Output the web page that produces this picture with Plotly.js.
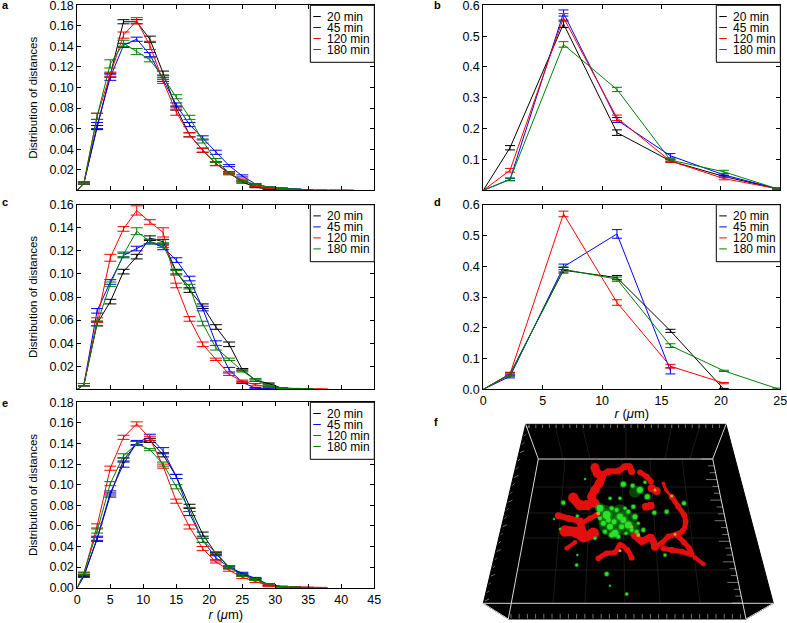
<!DOCTYPE html>
<html>
<head>
<meta charset="utf-8">
<script src="https://cdn.plot.ly/plotly-3.0.1.min.js"></script>
<style>html,body{margin:0;padding:0;background:#fff}</style>
</head>
<body>
<div id="myDiv" style="width:787px;height:623px"></div>
<script>
var seriesNames = ["20 min", "45 min", "120 min", "180 min"];
var rFine = [0, 1, 3, 5, 7, 9, 11, 13, 15, 17, 19, 21, 23, 25, 27, 29, 31, 33, 35, 37, 39, 41];
var rCoarse = [0, 2.25, 6.75, 11.25, 15.75, 20.25, 24.75];

// panel a
var a20 = [0, .007, .061, .112, .164, .164, .147, .114, .080, .054, .039, .026, .017, .008, .003, .001, .0005];
var a45 = [0, .007, .063, .110, .141, .147, .132, .108, .083, .064, .051, .037, .024, .014, .006, .003, .002, .001, .0005];
var a120 = [0, .007, .072, .113, .151, .165, .141, .106, .076, .054, .039, .026, .016, .010, .004, .002, .001, .0005, .0003, .0002, .0001, .0001];
var a180 = [0, .007, .072, .123, .143, .135, .127, .110, .091, .071, .048, .029, .017, .009, .006, .003, .002, .001];
var a20e = [.001, .002, .002, .002, .002, .003, .002, .002, .002, .002, .002, .001, .001, .0005, .0003, .0002];
var a45e = [.001, .003, .003, .002, .002, .002, .002, .002, .002, .002, .002, .001, .001, .0005, .0004, .0003, .0002, .0002];
var a120e = [.001, .003, .002, .003, .003, .004, .002, .003, .002, .002, .002, .001, .001, .0005, .0004, .0003, .0002, .0002, .0001, .0001, .0001];
var a180e = [.001, .003, .004, .003, .003, .002, .002, .002, .002, .002, .002, .001, .001, .0005, .0004, .0003, .0002];

// panel c
var c20 = [0, .004, .057, .076, .102, .115, .131, .128, .102, .086, .072, .054, .039, .017, .008, .005, .001, .0005];
var c45 = [0, .004, .068, .093, .116, .122, .128, .123, .112, .096, .070, .040, .017, .006, .001, .0005];
var c120 = [0, .004, .060, .114, .139, .155, .145, .136, .090, .061, .039, .026, .013, .007, .004, .002, .001, .0005, .0003, .0002];
var c180 = [0, .004, .057, .091, .117, .137, .128, .125, .101, .089, .057, .036, .026, .016, .008, .003, .001, .0006, .0003];
var c20e = [.001, .002, .002, .002, .002, .002, .002, .002, .002, .002, .002, .002, .001, .001, .0005, .0003, .0002];
var c45e = [.001, .002, .002, .002, .002, .002, .002, .002, .002, .002, .002, .002, .001, .0005, .0003];
var c120e = [.001, .002, .003, .002, .004, .002, .004, .002, .002, .002, .001, .001, .001, .001, .0005, .0003, .0002, .0001, .0001];
var c180e = [.001, .002, .002, .002, .003, .002, .002, .002, .002, .002, .002, .001, .001, .001, .0005, .0003, .0002, .0001];

// panel e
var e20 = [0, .012, .047, .090, .124, .140, .143, .129, .108, .079, .052, .033, .020, .013, .008, .003, .001, .0005];
var e45 = [0, .011, .048, .092, .120, .141, .146, .133, .108, .072, .046, .029, .020, .014, .009, .003, .001, .0005, .0002];
var e120 = [0, .014, .060, .116, .146, .159, .145, .118, .084, .059, .038, .025, .017, .010, .006, .002, .001, .0005, .0003, .0002];
var e180 = [0, .014, .055, .101, .128, .140, .134, .120, .098, .076, .046, .034, .020, .012, .008, .003, .001, .0005];
var e20e = [.001, .002, .002, .002, .002, .002, .002, .002, .002, .002, .001, .001, .001, .001, .001, .0003, .0002];
var e45e = [.001, .002, .002, .003, .002, .003, .003, .002, .002, .002, .002, .001, .001, .001, .001, .0003, .0002, .0001];
var e120e = [.001, .002, .002, .002, .002, .002, .002, .002, .002, .002, .001, .001, .001, .001, .001, .0003, .0002, .0001, .0001];
var e180e = [.001, .002, .002, .002, .002, .001, .002, .002, .002, .002, .001, .001, .001, .001, .001, .0003, .0002];

// panel b
var b20 = [0, .138, .54, .187, .095, .045, .005];
var b45 = [0, .035, .575, .228, .112, .05, .005];
var b120 = [0, .065, .56, .235, .095, .038, .005];
var b180 = [0, .036, .473, .327, .098, .06, .005];
var b20e = [.007, .012, .009, .004, .004, .002];
var b45e = [.004, .010, .008, .007, .004, .002];
var b120e = [.006, .013, .009, .004, .004, .002];
var b180e = [.004, .009, .007, .004, .005, .002];

// panel d
var d20 = [0, .05, .387, .363, .19, 0];
var d45 = [0, .042, .398, .505, .06];
var d120 = [0, .05, .57, .282, .075, .02];
var d180 = [0, .047, .39, .358, .142, .06, .002];
var d20e = [.005, .009, .007, .005, .003];
var d45e = [.005, .009, .014, .010];
var d120e = [.005, .009, .009, .006, .002];
var d180e = [.005, .008, .007, .006, .002, .002];

var yTicksA = [.02, .04, .06, .08, .10, .12, .14, .16, .18];
var yTicksC = [.02, .04, .06, .08, .10, .12, .14, .16];
var yTicksE = [0, .02, .04, .06, .08, .10, .12, .14, .16, .18];
var yTicksB = [.1, .2, .3, .4, .5, .6];
var yTicksD = [0, .1, .2, .3, .4, .5, .6];
var xTicksFine = [0, 5, 10, 15, 20, 25, 30, 35, 40, 45];
var xTicksCoarse = [0, 5, 10, 15, 20, 25];

// panel f is a microscope picture, sketched in page pixels on its own hidden axes
var stackOutline = [[525.7, 424.3], [726, 424.3], [773.3, 603.3], [746, 619], [508.3, 619], [483.3, 603.3], [525.7, 424.3]];
var frameSegs = [
  [538.3, 459, 712.7, 459], [525.7, 424.3, 538.3, 459], [726, 424.3, 712.7, 459],
  [538.3, 459, 508.3, 619], [712.7, 459, 746, 619], [483.3, 603.3, 773.3, 603.3],
  [483.3, 603.3, 508.3, 619], [773.3, 603.3, 746, 619]
];
var gridSegs = [
  [533, 487, 718, 487], [528, 513, 724, 513], [523, 538, 729, 538], [518, 570, 736, 570],
  [565, 459, 553, 603], [592, 459, 585, 603], [622, 459, 625, 603], [650, 459, 660, 603], [682, 459, 700, 603],
  [555, 425, 563, 459], [582, 425, 590, 459], [626, 425, 626, 459], [672, 425, 665, 459], [700, 425, 690, 459]
];
var redStrands = [
  {w: 8, p: [[165, 38], [172, 55], [185, 62], [178, 85], [165, 105], [155, 125], [165, 145]]},
  {w: 6, p: [[185, 62], [205, 50], [235, 48], [255, 35], [268, 35], [275, 50]]},
  {w: 5, p: [[300, 52], [320, 65], [333, 80]]},
  {w: 7, p: [[335, 100], [350, 108]]},
  {w: 7, p: [[318, 155], [332, 152]]},
  {w: 3, p: [[370, 85], [378, 105], [395, 125]]},
  {w: 5, p: [[395, 125], [415, 155], [432, 180], [437, 200], [428, 228], [408, 238], [385, 245], [368, 262], [345, 275]]},
  {w: 5, p: [[410, 240], [432, 262], [448, 280], [455, 298], [425, 290], [395, 285], [370, 280]]},
  {w: 4, p: [[465, 308], [490, 327]]},
  {w: 7, p: [[345, 275], [332, 248], [305, 258], [285, 240]]},
  {w: 6, p: [[55, 182], [85, 190], [120, 198]]},
  {w: 10, p: [[75, 228], [110, 232], [130, 245], [160, 235]]},
  {w: 9, p: [[100, 128], [120, 150], [142, 150]]},
  {w: 5, p: [[125, 205], [150, 190], [170, 180]]},
  {w: 7, p: [[120, 200], [128, 230]]},
  {w: 5, p: [[175, 310], [200, 295], [225, 292], [240, 270], [262, 285], [275, 308]]},
  {w: 4, p: [[80, 280], [105, 262]]}
];
var greenBlobs = [
  [180, 160, 7], [200, 180, 8], [225, 235, 7], [240, 185, 6], [265, 210, 7], [210, 215, 6], [250, 195, 6], [285, 185, 5],
  [190, 205, 5], [280, 155, 4], [300, 105, 6], [250, 88, 5], [278, 92, 4], [322, 125, 5], [315, 82, 3], [240, 130, 3],
  [210, 130, 3], [343, 173, 4], [380, 170, 4], [432, 145, 4], [290, 230, 4], [310, 225, 4], [70, 143, 4], [112, 183, 3],
  [42, 192, 2], [135, 72, 2], [60, 222, 2], [110, 330, 3], [112, 300, 2], [200, 357, 4], [210, 392, 2], [260, 417, 3],
  [375, 300, 3], [165, 250, 3], [235, 245, 4], [215, 240, 5], [258, 235, 3], [230, 165, 4], [265, 170, 4], [205, 195, 5],
  [222, 200, 5], [245, 215, 5], [275, 225, 4], [195, 230, 4], [255, 160, 3], [295, 205, 3], [215, 160, 4], [180, 190, 4]
];
var greenHaze = [[215, 205, 26], [255, 205, 24], [240, 175, 18], [280, 225, 14], [195, 170, 14], [285, 110, 12]];
var yellowBlobs = [[175, 175, 4], [295, 240, 4], [405, 238, 3], [395, 123, 3], [345, 105, 3], [240, 287, 3], [275, 215, 3]];

var colors = ["#000000", "#0000ff", "#ff0000", "#008000"];
var fontName = "Liberation Sans, Arial, sans-serif";
var W = 787, H = 623;

function px(v) { return v / W; }
function py(v) { return 1 - v / H; }
function zx(v) { return 540 + v / 3; }
function zy(v) { return 455 + v / 3; }

var data = [], shapes = [], annotations = [];
var layout = {
  width: W, height: H,
  margin: {l: 0, r: 0, t: 0, b: 0},
  paper_bgcolor: "#fff", plot_bgcolor: "#fff",
  showlegend: false,
  font: {family: fontName, size: 12.5, color: "#000"}
};

function addPanel(n, box, xr, yr, xvals, r, cap, vals, errs, opts) {
  var sfx = n == 1 ? "" : n;
  for (var i = 0; i < vals.length; i++) {
    data.push({
      type: "scatter", mode: "lines", name: seriesNames[i],
      x: r.slice(0, vals[i].length), y: vals[i],
      xaxis: "x" + sfx, yaxis: "y" + sfx,
      cliponaxis: false,
      line: {color: colors[i], width: 1},
      error_y: {type: "data", array: [NaN].concat(errs[i]), color: colors[i], thickness: 1, width: cap}
    });
  }
  layout["xaxis" + sfx] = {
    domain: [px(box[0]), px(box[1])], range: xr, anchor: "y" + sfx,
    tickmode: "array", tickvals: xvals, ticktext: xvals.map(String),
    showticklabels: !!opts.xtitle, ticklabeloverflow: "allow",
    ticks: "inside", ticklen: 4, tickcolor: "#000", mirror: "ticks",
    showline: true, linecolor: "#000", linewidth: 1, showgrid: false, zeroline: false,
    tickfont: {family: fontName, size: 12.5, color: "#000"},
    title: opts.xtitle ? {text: "<i>r</i>\u00a0(<i>μ</i>m)", standoff: 1, font: {family: fontName, size: 13}} : undefined
  };
  layout["yaxis" + sfx] = {
    domain: [py(box[3]), py(box[2])], range: yr, anchor: "x" + sfx,
    tickmode: "array", tickvals: opts.yticks, ticktext: opts.yticks.map(function (v) { return v.toFixed(opts.dec); }),
    ticklabeloverflow: "allow",
    ticks: "inside", ticklen: 4, tickcolor: "#000", mirror: "ticks",
    showline: true, linecolor: "#000", linewidth: 1, showgrid: false, zeroline: false,
    tickfont: {family: fontName, size: 12.5, color: "#000"},
    title: opts.ytitle ? {text: "Distribution of distances", standoff: 9, font: {family: fontName, size: 11.5}} : undefined
  };

  // small matplotlib style legend
  var L = box[1] - 64, T = box[2];
  shapes.push({type: "rect", xref: "paper", yref: "paper", layer: "above",
    x0: px(L), x1: px(box[1]), y0: py(T), y1: py(T + 57),
    fillcolor: "#fff", line: {color: "#000", width: 1}});
  seriesNames.forEach(function (name, i) {
    var rowY = T + 11.2 + 11 * i;
    shapes.push({type: "line", xref: "paper", yref: "paper", layer: "above",
      x0: px(L + 3), x1: px(L + 10.5), y0: py(rowY), y1: py(rowY), line: {color: colors[i], width: 1}});
    annotations.push({xref: "paper", yref: "paper", x: px(L + 16), y: py(rowY), text: name, showarrow: false,
      xanchor: "left", yanchor: "middle", borderpad: 0, height: 11, valign: "middle",
      font: {family: fontName, size: 12, color: "#000"}});
  });
}

addPanel(1, [77.3, 374.3, 5.3, 190.3], [0, 45], [0, .18], xTicksFine, rFine, 6,
  [a20, a45, a120, a180], [a20e, a45e, a120e, a180e], {yticks: yTicksA, dec: 2, ytitle: true});
addPanel(2, [483.3, 780.3, 5.3, 190.3], [0, 25], [0, .6], xTicksCoarse, rCoarse, 5,
  [b20, b45, b120, b180], [b20e, b45e, b120e, b180e], {yticks: yTicksB, dec: 1});
addPanel(3, [77.3, 374.3, 204.7, 389.3], [0, 45], [0, .16], xTicksFine, rFine, 6,
  [c20, c45, c120, c180], [c20e, c45e, c120e, c180e], {yticks: yTicksC, dec: 2, ytitle: true});
addPanel(4, [483.3, 780.3, 204.7, 389.3], [0, 25], [0, .6], xTicksCoarse, rCoarse, 5,
  [d20, d45, d120, d180], [d20e, d45e, d120e, d180e], {yticks: yTicksD, dec: 1, xtitle: true});
addPanel(5, [77.3, 374.3, 402.3, 587.7], [0, 45], [0, .18], xTicksFine, rFine, 6,
  [e20, e45, e120, e180], [e20e, e45e, e120e, e180e], {yticks: yTicksE, dec: 2, ytitle: true, xtitle: true});

// panel f
layout.xaxis6 = {domain: [430 / W, 1], range: [430, 787], anchor: "y6", visible: false};
layout.yaxis6 = {domain: [0, 213 / H], range: [623, 410], anchor: "x6", visible: false};

function segTrace(segs, color, width) {
  var xs = [], ys = [];
  segs.forEach(function (s) { xs.push(s[0], s[2], null); ys.push(s[1], s[3], null); });
  return {type: "scatter", mode: "lines", x: xs, y: ys, xaxis: "x6", yaxis: "y6", hoverinfo: "skip",
    line: {color: color, width: width}};
}
function blobTrace(list, color, scale, alpha) {
  return {type: "scatter", mode: "markers", xaxis: "x6", yaxis: "y6", hoverinfo: "skip",
    x: list.map(function (b) { return zx(b[0]); }), y: list.map(function (b) { return zy(b[1]); }),
    marker: {color: color, opacity: alpha, line: {width: 0}, size: list.map(function (b) { return b[2] * scale; })}};
}
data.push({type: "scatter", mode: "lines", xaxis: "x6", yaxis: "y6", hoverinfo: "skip", fill: "toself", fillcolor: "#000",
  x: stackOutline.map(function (p) { return p[0]; }), y: stackOutline.map(function (p) { return p[1]; }),
  line: {color: "#000", width: 1}});

// scale bar ticks round the frame, purely decorative
var tickSegs = [];
for (var t = 0; t < 29; t++) {
  var tx = 529 + t * 6.8;
  tickSegs.push([tx, 424.6, tx, 428]);
  var bx = 511 + t * 8.2;
  tickSegs.push([bx, 618.5, bx, 614]);
}
for (var k = 0; k < 22; k++) {
  var f = k / 21, rx = 712.7 + f * 30, ry = 459 + f * 144;
  tickSegs.push([rx - 6 - 5 * (k % 3 == 0), ry, rx, ry]);
  var lx = 526 - f * 41, ly = 428 + f * 173;
  tickSegs.push([lx, ly, lx + 2 + 2 * (k % 3 == 0), ly - 2]);
}
data.push(segTrace(gridSegs, "#2c2c2c", 0.6));
data.push(segTrace(tickSegs, "#a8a8a8", 0.7));
data.push(segTrace(frameSegs, "#d8d8d8", 1));

data.push(blobTrace(greenHaze, "#0c7a0c", 1, 0.55));
redStrands.forEach(function (s) {
  data.push({type: "scatter", mode: "lines+markers", xaxis: "x6", yaxis: "y6", hoverinfo: "skip",
    x: s.p.map(function (q) { return zx(q[0]); }), y: s.p.map(function (q) { return zy(q[1]); }),
    marker: {color: "#e30f0f", size: s.w * 1.15, line: {width: 0}},
    line: {color: "#e30f0f", width: s.w, shape: "spline"}});
});
data.push(blobTrace(greenBlobs, "#1c9c1c", 1.5, 0.5));
data.push(blobTrace(greenBlobs, "#2be02b", 1, 1));
data.push(blobTrace(yellowBlobs, "#c9a52a", 1, 1));

// panel letters
[["a", 1, 5], ["b", 433, 5], ["c", 1, 202], ["d", 433, 202], ["e", 1, 403], ["f", 433, 422]].forEach(function (lab) {
  annotations.push({xref: "paper", yref: "paper", x: px(lab[1]), y: py(lab[2]), text: "<b>" + lab[0] + "</b>", showarrow: false,
    xanchor: "left", yanchor: "middle", borderpad: 0, font: {family: fontName, size: 11, color: "#000"}});
});

layout.shapes = shapes;
layout.annotations = annotations;
Plotly.newPlot("myDiv", data, layout, {displayModeBar: false, staticPlot: true});
</script>
</body>
</html>
